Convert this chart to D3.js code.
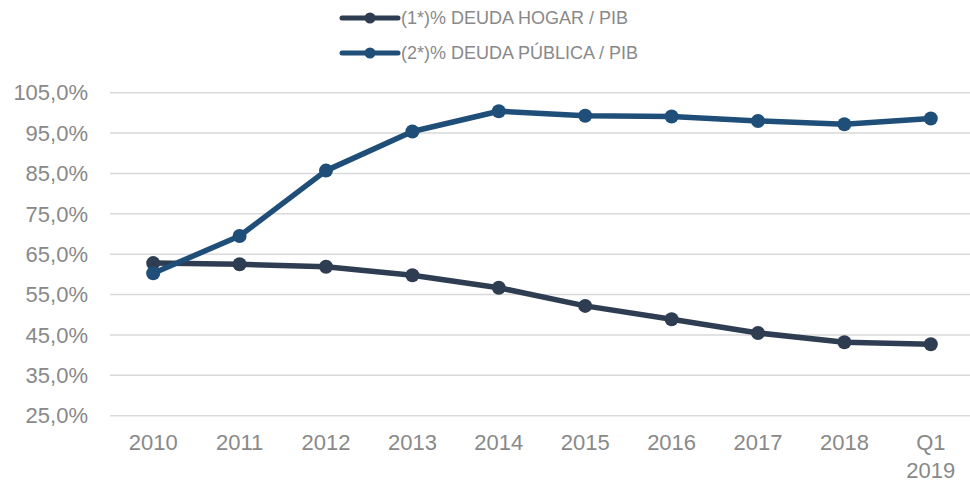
<!DOCTYPE html>
<meta charset="utf-8">
<style>
body { margin: 0; background: #fff; }
text { font-family: "Liberation Sans", Arial, sans-serif; fill: #898989; }
.grid line { stroke: #d9d9d9; stroke-width: 1.5px; }
.line { fill: none; stroke-width: 5.5px; stroke-linejoin: round; }
</style>
<body>
<svg id="chart" width="970" height="483"></svg>
<script src="https://d3js.org/d3.v7.min.js"></script>
<script>
// categories and values
var years = ["2010", "2011", "2012", "2013", "2014", "2015", "2016", "2017", "2018", "Q1 2019"];
var hogar = [62.8, 62.5, 61.9, 59.8, 56.7, 52.2, 48.9, 45.5, 43.2, 42.7];
var publica = [60.3, 69.5, 85.7, 95.4, 100.4, 99.3, 99.1, 98.0, 97.2, 98.6];
var yTicks = [25, 35, 45, 55, 65, 75, 85, 95, 105];

var seriesNames = ["(1*)% DEUDA HOGAR / PIB", "(2*)% DEUDA PÚBLICA / PIB"];
var colors = ["#2f3d52", "#1f4e79"];

var svg = d3.select("#chart");

var x = d3.scaleBand().domain(years).range([110, 974]);
var y = d3.scaleLinear().domain([25, 105]).range([415.7, 92.7]);

// gridlines
svg.append("g").attr("class", "grid")
  .selectAll("line").data(yTicks).enter().append("line")
    .attr("x1", 110).attr("x2", 970)
    .attr("y1", function(d) { return y(d); })
    .attr("y2", function(d) { return y(d); });

// y labels
svg.append("g").selectAll("text").data(yTicks).enter().append("text")
    .attr("x", 88)
    .attr("y", function(d) { return y(d); })
    .attr("dy", "0.35em")
    .attr("text-anchor", "end")
    .style("font-size", "22px")
    .text(function(d) { return d3.format(".1f")(d).replace(".", ",") + "%"; });

// x labels
svg.append("g").selectAll("text").data(years).enter().append("text")
    .attr("text-anchor", "middle")
    .style("font-size", "22px")
    .attr("transform", function(d) { return "translate(" + (x(d) + x.bandwidth() / 2) + ",450)"; })
    .each(function(d) {
      var parts = d.split(" ");
      var t = d3.select(this);
      parts.forEach(function(p, i) {
        t.append("tspan").attr("x", 0).attr("dy", i ? 28 : 0).text(p);
      });
    });

var line = d3.line()
    .x(function(d, i) { return x(years[i]) + x.bandwidth() / 2; })
    .y(function(d) { return y(d); });

[hogar, publica].forEach(function(data, k) {
  svg.append("path")
      .datum(data)
      .attr("class", "line")
      .style("stroke", colors[k])
      .attr("d", line);
  svg.append("g").selectAll("circle").data(data).enter().append("circle")
      .attr("cx", function(d, i) { return x(years[i]) + x.bandwidth() / 2; })
      .attr("cy", function(d) { return y(d); })
      .attr("r", 7)
      .style("fill", colors[k]);
});

// legend
var legend = svg.append("g").selectAll("g").data(seriesNames).enter().append("g")
    .attr("transform", function(d, i) { return "translate(342," + (18 + i * 35) + ")"; });
legend.append("line")
    .attr("x1", 0).attr("x2", 56)
    .style("stroke", function(d, i) { return colors[i]; })
    .style("stroke-width", 5)
    .style("stroke-linecap", "round");
legend.append("circle")
    .attr("cx", 28).attr("r", 5.5)
    .style("fill", function(d, i) { return colors[i]; });
legend.append("text")
    .attr("x", 59).attr("dy", "0.35em")
    .style("font-size", "18px")
    .text(function(d) { return d; });
</script>
</body>
